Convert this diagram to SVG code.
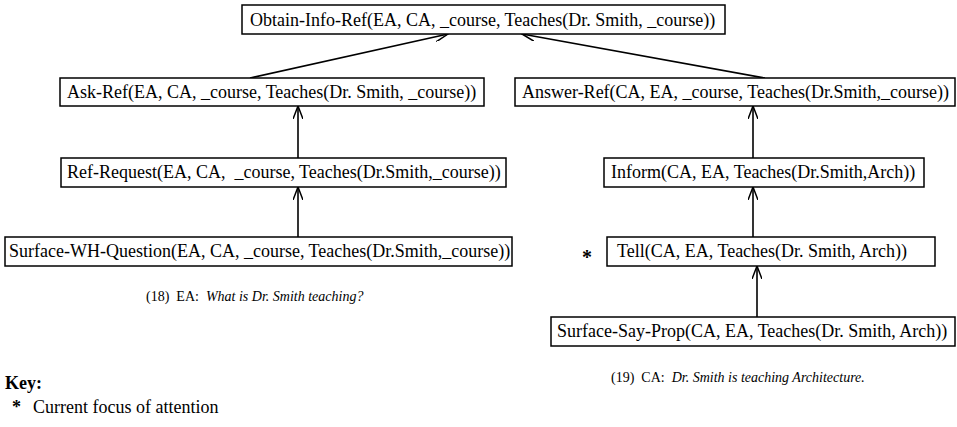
<svg xmlns="http://www.w3.org/2000/svg" width="957" height="427" viewBox="0 0 957 427">
<style>
.box{fill:#fff;stroke:#000;stroke-width:1.5}
.t{font-family:"Liberation Serif","Times New Roman",serif;font-size:18px;fill:#000}
.cap{font-family:"Liberation Serif","Times New Roman",serif;font-size:14px;fill:#000}
.it{font-style:italic}
.edge{stroke:#000;stroke-width:1.6;fill:none;marker-end:url(#arr)}
</style>
<defs>
<marker id="arr" viewBox="0 0 14 10" refX="13" refY="5" markerWidth="14" markerHeight="10" markerUnits="userSpaceOnUse" orient="auto">
<path d="M0,0 L13,5 L0,10" fill="none" stroke="#000" stroke-width="1.5"/>
</marker>
</defs>
<rect width="957" height="427" fill="#fff"/>
<g id="connectors">
<line class="edge" x1="250" y1="78" x2="448" y2="34"/>
<line class="edge" x1="765" y1="78" x2="522" y2="34"/>
<line class="edge" x1="298" y1="158" x2="298" y2="106"/>
<line class="edge" x1="298" y1="237" x2="298" y2="187"/>
<line class="edge" x1="753" y1="158" x2="753" y2="106"/>
<line class="edge" x1="753" y1="237" x2="753" y2="187"/>
<line class="edge" x1="757" y1="317" x2="757" y2="266"/>
</g>
<g id="obtain-info-ref">
<rect class="box" x="242" y="5" width="483" height="29"/>
<text class="t" x="250" y="26">Obtain-Info-Ref(EA, CA, _course, Teaches(Dr. Smith, _course))</text>
</g>
<g id="ask-ref">
<rect class="box" x="60" y="78" width="424" height="28"/>
<text class="t" x="67" y="98">Ask-Ref(EA, CA, _course, Teaches(Dr. Smith, _course))</text>
</g>
<g id="answer-ref">
<rect class="box" x="515" y="78" width="440" height="28"/>
<text class="t" x="522" y="98">Answer-Ref(CA, EA, _course, Teaches(Dr.Smith,_course))</text>
</g>
<g id="ref-request">
<rect class="box" x="61" y="158" width="445" height="29"/>
<text class="t" x="67" y="178" xml:space="preserve">Ref-Request(EA, CA,  _course, Teaches(Dr.Smith,_course))</text>
</g>
<g id="inform">
<rect class="box" x="604" y="158" width="320" height="29"/>
<text class="t" x="611" y="178">Inform(CA, EA, Teaches(Dr.Smith,Arch))</text>
</g>
<g id="surface-wh-question">
<rect class="box" x="5" y="237" width="507" height="29"/>
<text class="t" x="9" y="257">Surface-WH-Question(EA, CA, _course, Teaches(Dr.Smith,_course))</text>
</g>
<g id="tell">
<text class="t" x="582" y="264" style="font-size:20px;font-weight:bold">*</text>
<rect class="box" x="607" y="237" width="328" height="29"/>
<text class="t" x="617" y="257">Tell(CA, EA, Teaches(Dr. Smith, Arch))</text>
</g>
<g id="surface-say-prop">
<rect class="box" x="551" y="317" width="404" height="29"/>
<text class="t" x="557" y="337">Surface-Say-Prop(CA, EA, Teaches(Dr. Smith, Arch))</text>
</g>
<g id="captions">
<text class="cap" x="146" y="301" xml:space="preserve">(18)  EA:  <tspan class="it">What is Dr. Smith teaching?</tspan></text>
<text class="cap" x="611" y="382" xml:space="preserve">(19)  CA:  <tspan class="it">Dr. Smith is teaching Architecture.</tspan></text>
</g>
<g id="key">
<text class="t" x="5" y="389" style="font-weight:bold">Key:</text>
<text class="t" x="12" y="413" style="font-weight:bold">*</text>
<text class="t" x="33" y="413">Current focus of attention</text>
</g>
</svg>
